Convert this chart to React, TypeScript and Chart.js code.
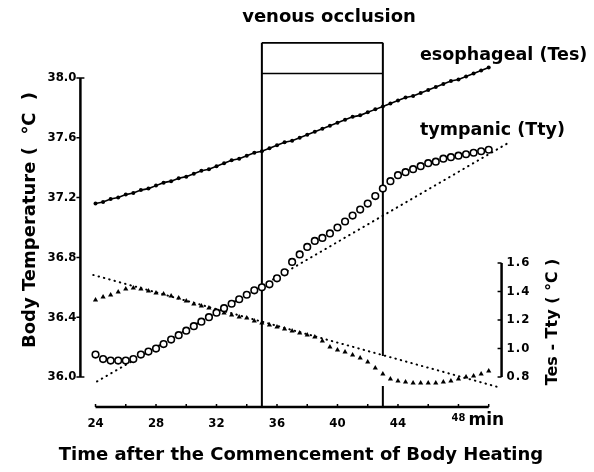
import React, { useEffect, useRef } from 'react';
import { Chart, registerables } from 'chart.js';
Chart.register(...registerables);

// ---------- data ----------
const minutes = [
  24, 24.5, 25, 25.5, 26, 26.5, 27, 27.5, 28, 28.5, 29, 29.5, 30, 30.5, 31, 31.5, 32, 32.5,
  33, 33.5, 34, 34.5, 35, 35.5, 36, 36.5, 37, 37.5, 38, 38.5, 39, 39.5, 40, 40.5, 41, 41.5,
  42, 42.5, 43, 43.5, 44, 44.5, 45, 45.5, 46, 46.5, 47, 47.5, 48, 48.5, 49, 49.5, 50,
];
const tesValues = [
  37.16, 37.17, 37.19, 37.20, 37.22, 37.23, 37.25, 37.26, 37.28, 37.30, 37.31, 37.33, 37.34,
  37.36, 37.38, 37.39, 37.41, 37.43, 37.45, 37.46, 37.48, 37.50, 37.51, 37.53, 37.55, 37.57,
  37.58, 37.60, 37.62, 37.64, 37.66, 37.68, 37.70, 37.72, 37.74, 37.75, 37.77, 37.79, 37.81,
  37.83, 37.85, 37.87, 37.88, 37.90, 37.92, 37.94, 37.96, 37.98, 37.99, 38.01, 38.03, 38.05, 38.07,
];
const ttyValues = [
  36.15, 36.12, 36.11, 36.11, 36.11, 36.12, 36.15, 36.17, 36.19, 36.22, 36.25, 36.28, 36.31,
  36.34, 36.37, 36.40, 36.43, 36.46, 36.49, 36.52, 36.55, 36.58, 36.60, 36.62, 36.66, 36.70,
  36.77, 36.82, 36.87, 36.91, 36.93, 36.96, 37.00, 37.04, 37.08, 37.12, 37.16, 37.21, 37.26,
  37.31, 37.35, 37.37, 37.39, 37.41, 37.43, 37.44, 37.46, 37.47, 37.48, 37.49, 37.50, 37.51, 37.52,
];
const diffValues = [
  1.340, 1.361, 1.375, 1.396, 1.418, 1.425, 1.418, 1.404, 1.389, 1.382, 1.368, 1.354, 1.333,
  1.312, 1.298, 1.284, 1.263, 1.249, 1.235, 1.221, 1.214, 1.193, 1.179, 1.165, 1.151, 1.137,
  1.123, 1.109, 1.095, 1.081, 1.053, 1.011, 0.989, 0.975, 0.954, 0.933, 0.905, 0.863, 0.821,
  0.786, 0.772, 0.765, 0.758, 0.758, 0.758, 0.758, 0.765, 0.772, 0.786, 0.800, 0.807, 0.821, 0.842,
];
const ttyFitX = [24.1, 51.2];
const ttyFitY = [35.97, 37.56];
const diffFitX = [23.85, 50.6];
const diffFitY = [1.516, 0.73];

const leftTicks = [36.0, 36.4, 36.8, 37.2, 37.6, 38.0];
const rightTicks = [0.8, 1.0, 1.2, 1.4, 1.6];
const xMinorTicks = [24, 26, 28, 30, 32, 34, 36, 38, 40, 42, 44, 46, 48, 50];
const xLabels = [24, 28, 32, 36, 40, 44];
const occlusionStart = 35;
const occlusionEnd = 43;

// ---------- scale geometry ----------
const X_MIN = 23;
const X_MAX = 51.5;
const Y_MIN = 35.8;
const Y_MAX = 38.25;
const PX_PER_DEG = 149.5;
const PX_PER_DIFF = 142.5;
const Y2_MIN = 0.8 - ((36.0 - Y_MIN) * PX_PER_DEG) / PX_PER_DIFF;
const Y2_MAX = 0.8 + ((Y_MAX - 36.0) * PX_PER_DEG) / PX_PER_DIFF;
const BOX_TOP = 38.235;
const BOX_MID = 38.03;
const RIGHT_AXIS_X = 50.85;

const TITLE_FONT = 'bold 18px "DejaVu Sans", sans-serif';
const LABEL_FONT = 'bold 17.5px "DejaVu Sans", sans-serif';
const TICK_FONT = 'bold 13px "DejaVu Sans Condensed", "Liberation Sans Narrow", sans-serif';

const pts = (xs: number[], ys: number[]) => xs.map((x, i) => ({ x, y: ys[i] }));

const decor = {
  id: 'decor',
  beforeDatasetsDraw(chart: any) {
    const { ctx, scales } = chart;
    const x = scales.x;
    const y = scales.y;
    const xs = x.getPixelForValue(occlusionStart);
    const xe = x.getPixelForValue(occlusionEnd);
    const yt = y.getPixelForValue(BOX_TOP);
    const ym = y.getPixelForValue(BOX_MID);
    const yb = y.getPixelForValue(Y_MIN);
    ctx.save();
    ctx.strokeStyle = '#000';
    ctx.lineWidth = 2;
    ctx.beginPath();
    ctx.moveTo(xs, yb);
    ctx.lineTo(xs, yt);
    ctx.moveTo(xe, y.getPixelForValue(36.14));
    ctx.lineTo(xe, yt);
    ctx.moveTo(xe, yb);
    ctx.lineTo(xe, y.getPixelForValue(35.94));
    ctx.stroke();
    ctx.lineWidth = 1.6;
    ctx.beginPath();
    ctx.moveTo(xs, yt);
    ctx.lineTo(xe, yt);
    ctx.moveTo(xs, ym);
    ctx.lineTo(xe, ym);
    ctx.stroke();
    ctx.restore();
  },
  afterDraw(chart: any) {
    const { ctx, scales, chartArea } = chart;
    const x = scales.x;
    const y = scales.y;
    const y2 = scales.y2;
    ctx.save();
    ctx.strokeStyle = '#000';
    ctx.fillStyle = '#000';
    ctx.lineWidth = 2.5;

    // left axis
    const lx = chartArea.left;
    ctx.beginPath();
    ctx.moveTo(lx, y.getPixelForValue(36.0));
    ctx.lineTo(lx, y.getPixelForValue(38.0));
    ctx.stroke();
    ctx.lineWidth = 1.5;
    ctx.beginPath();
    leftTicks.forEach((v) => {
      const py = y.getPixelForValue(v);
      ctx.moveTo(lx - 4, py);
      ctx.lineTo(lx, py);
    });
    [36.0, 38.0].forEach((v) => {
      const py = y.getPixelForValue(v);
      ctx.moveTo(lx, py);
      ctx.lineTo(lx + 4, py);
    });
    ctx.stroke();
    ctx.font = TICK_FONT;
    ctx.textAlign = 'right';
    ctx.textBaseline = 'middle';
    leftTicks.forEach((v) => {
      ctx.fillText(v.toFixed(1), lx - 4, y.getPixelForValue(v));
    });

    // right axis
    const rx = x.getPixelForValue(RIGHT_AXIS_X);
    ctx.lineWidth = 2.5;
    ctx.beginPath();
    ctx.moveTo(rx, y2.getPixelForValue(0.8));
    ctx.lineTo(rx, y2.getPixelForValue(1.6));
    ctx.stroke();
    ctx.lineWidth = 1.5;
    ctx.beginPath();
    rightTicks.forEach((v) => {
      const py = y2.getPixelForValue(v);
      ctx.moveTo(rx - 4, py);
      ctx.lineTo(rx, py);
    });
    ctx.stroke();
    ctx.textAlign = 'left';
    (ctx as any).letterSpacing = '1px';
    rightTicks.forEach((v) => {
      ctx.fillText(v.toFixed(1), rx + 5, y2.getPixelForValue(v));
    });
    (ctx as any).letterSpacing = '0px';

    // x axis
    const by = chartArea.bottom;
    ctx.lineWidth = 2.5;
    ctx.beginPath();
    ctx.moveTo(x.getPixelForValue(24), by);
    ctx.lineTo(x.getPixelForValue(50), by);
    ctx.stroke();
    ctx.lineWidth = 1.5;
    ctx.beginPath();
    xMinorTicks.forEach((v) => {
      const px = x.getPixelForValue(v);
      ctx.moveTo(px, by);
      ctx.lineTo(px, by - 3);
    });
    ctx.stroke();
    ctx.textAlign = 'center';
    ctx.textBaseline = 'alphabetic';
    ctx.font = TICK_FONT;
    xLabels.forEach((v) => {
      ctx.fillText(String(v), x.getPixelForValue(v), by + 20);
    });
    ctx.font = 'bold 11px "DejaVu Sans Condensed", "Liberation Sans Narrow", sans-serif';
    ctx.fillText('48', x.getPixelForValue(48), by + 14);
    ctx.textAlign = 'left';
    ctx.font = 'bold 17px "DejaVu Sans", sans-serif';
    ctx.fillText('min', x.getPixelForValue(48) + 10, by + 18);

    // titles
    ctx.font = TITLE_FONT;
    ctx.textAlign = 'center';
    ctx.fillText('venous occlusion', 329, 22);
    ctx.fillText('Time after the Commencement of Body Heating', 301, 460);
    ctx.font = LABEL_FONT;
    ctx.textAlign = 'left';
    ctx.fillText('esophageal (Tes)', 420, 60);
    ctx.fillText('tympanic (Tty)', 420, 135);

    ctx.save();
    ctx.translate(35, 220);
    ctx.rotate(-Math.PI / 2);
    ctx.font = TITLE_FONT;
    ctx.textAlign = 'center';
    ctx.fillText('Body Temperature (  ℃  )', 0, 0);
    ctx.restore();

    ctx.save();
    ctx.translate(557, 322);
    ctx.rotate(-Math.PI / 2);
    ctx.font = 'bold 16px "DejaVu Sans", sans-serif';
    ctx.textAlign = 'center';
    ctx.fillText('Tes - Tty ( ℃ )', 0, 0);
    ctx.restore();

    ctx.restore();
  },
};

export default function App() {
  const ref = useRef<HTMLCanvasElement>(null);
  useEffect(() => {
    const dotted = {
      borderColor: '#000',
      borderWidth: 2,
      borderDash: [0.5, 5],
      borderCapStyle: 'round',
      pointRadius: 0,
      showLine: true,
      fill: false,
    };
    const chart = new Chart(ref.current as HTMLCanvasElement, {
      type: 'line',
      data: {
        datasets: [
          {
            label: 'tympanic (Tty)',
            data: pts(minutes, ttyValues),
            yAxisID: 'y',
            showLine: false,
            pointStyle: 'circle',
            pointRadius: 3.3,
            pointBorderWidth: 1.6,
            pointBackgroundColor: '#fff',
            pointBorderColor: '#000',
            order: 1,
          },
          {
            label: 'esophageal (Tes)',
            data: pts(minutes, tesValues),
            yAxisID: 'y',
            showLine: true,
            borderColor: '#000',
            borderWidth: 1.6,
            pointStyle: 'circle',
            pointRadius: 2,
            pointBorderWidth: 0,
            pointBackgroundColor: '#000',
            order: 2,
          },
          {
            label: 'Tes - Tty',
            data: pts(minutes, diffValues),
            yAxisID: 'y2',
            showLine: false,
            pointStyle: 'triangle',
            pointRadius: 3,
            pointBorderWidth: 0,
            pointBackgroundColor: '#000',
            order: 3,
          },
          { label: 'Tty fit', data: pts(ttyFitX, ttyFitY), yAxisID: 'y', order: 4, ...dotted },
          { label: 'diff fit', data: pts(diffFitX, diffFitY), yAxisID: 'y2', order: 5, ...dotted },
        ] as any,
      },
      options: {
        responsive: false,
        animation: false,
        devicePixelRatio: 1,
        layout: { padding: { left: 80.4, right: 82.6, top: 40.6, bottom: 65.1 } },
        plugins: { legend: { display: false }, tooltip: { enabled: false } },
        events: [],
        scales: {
          x: { type: 'linear', min: X_MIN, max: X_MAX, display: false },
          y: { type: 'linear', min: Y_MIN, max: Y_MAX, display: false },
          y2: { type: 'linear', min: Y2_MIN, max: Y2_MAX, display: false },
        },
      } as any,
      plugins: [decor],
    });
    return () => chart.destroy();
  }, []);
  return (
    <div style={{ position: 'fixed', left: 0, top: 0, width: 594, height: 472, background: '#fff' }}>
      <canvas ref={ref} width={594} height={472} style={{ width: 594, height: 472, display: 'block' }} />
    </div>
  );
}
